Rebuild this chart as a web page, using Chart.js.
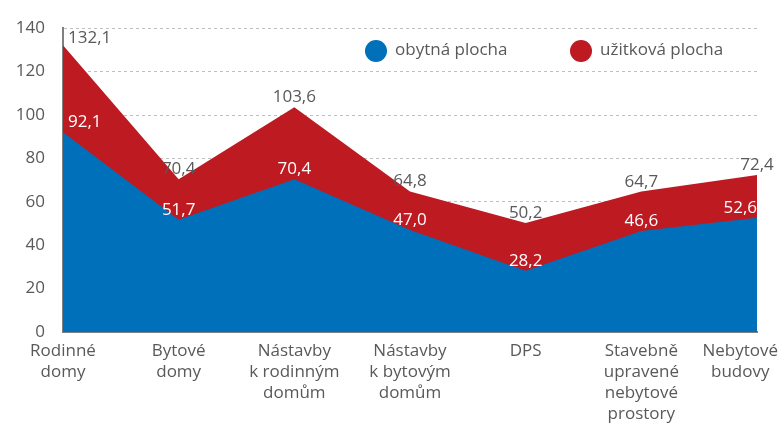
<!DOCTYPE html>
<html>
<head>
<meta charset="utf-8">
<script src="https://cdn.jsdelivr.net/npm/chart.js@4"></script>
<style>
    html, body { margin: 0; padding: 0; background: #ffffff; overflow: hidden; }
    #wrap { width: 782px; height: 423px; }
</style>
</head>
<body>
<div id="wrap"><canvas id="mainChart"></canvas></div>
<script>
// Data
const categories = [
    ['Rodinné', 'domy'],
    ['Bytové', 'domy'],
    ['Nástavby', 'k rodinným', 'domům'],
    ['Nástavby', 'k bytovým', 'domům'],
    ['DPS'],
    ['Stavebně', 'upravené', 'nebytové', 'prostory'],
    ['Nebytové', 'budovy']
];
const obytnaPlocha = [92.1, 51.7, 70.4, 47.0, 28.2, 46.6, 52.6];
const uzitkovaPlocha = [132.1, 70.4, 103.6, 64.8, 50.2, 64.7, 72.4];
const yTicks = [0, 20, 40, 60, 80, 100, 120, 140];

const BLUE = '#0070ba';
const RED = '#be1a22';
const GREY = '#595959';
const FONT = "'Open Sans', sans-serif";

const fmt = v => v.toFixed(1).replace('.', ',');

// Value labels above each point
const valueLabels = {
    id: 'valueLabels',
    afterDatasetsDraw(chart) {
        const ctx = chart.ctx;
        const area = chart.chartArea;
        ctx.save();
        ctx.font = `17px ${FONT}`;
        ctx.textAlign = 'center';
        ctx.textBaseline = 'alphabetic';
        chart.data.datasets.forEach((ds, i) => {
            const meta = chart.getDatasetMeta(i);
            ctx.fillStyle = ds.labelColor;
            meta.data.forEach((pt, j) => {
                const txt = fmt(ds.data[j]);
                const w = ctx.measureText(txt).width;
                let x = pt.x;
                let y = pt.y - 5;
                if (x - w / 2 < area.left + 5) x = area.left + 5 + w / 2;
                // white labels must stay on the coloured area
                if (ds.keepInside && x + w / 2 > area.right) x = area.right - w / 2;
                if (y < area.top + 15) y = area.top + 15;
                ctx.fillText(txt, x, y);
            });
        });
        ctx.restore();
    }
};

// Category labels, kept inside the canvas
const categoryLabels = {
    id: 'categoryLabels',
    afterDraw(chart) {
        const ctx = chart.ctx;
        const xs = chart.scales.x;
        ctx.save();
        ctx.font = `17px ${FONT}`;
        ctx.fillStyle = GREY;
        ctx.textAlign = 'center';
        ctx.textBaseline = 'middle';
        categories.forEach((lines, i) => {
            const widest = Math.max(...lines.map(l => ctx.measureText(l).width));
            let x = xs.getPixelForValue(i);
            if (x + widest / 2 > chart.width - 4) x = chart.width - 4 - widest / 2;
            lines.forEach((l, k) => {
                ctx.fillText(l, x, xs.top + 19 + k * 21);
            });
        });
        ctx.restore();
    }
};

// Legend drawn inside the plot
const innerLegend = {
    id: 'innerLegend',
    afterDraw(chart) {
        const ctx = chart.ctx;
        const items = [
            { text: 'obytná plocha', color: BLUE, x: 376 },
            { text: 'užitková plocha', color: RED, x: 581 }
        ];
        ctx.save();
        ctx.font = `17px ${FONT}`;
        ctx.textBaseline = 'middle';
        ctx.textAlign = 'left';
        items.forEach(it => {
            ctx.fillStyle = it.color;
            ctx.beginPath();
            ctx.arc(it.x, 51, 11, 0, Math.PI * 2);
            ctx.fill();
            ctx.fillStyle = GREY;
            ctx.fillText(it.text, it.x + 19, 50);
        });
        ctx.restore();
    }
};

const ctx = document.getElementById('mainChart').getContext('2d');
new Chart(ctx, {
    type: 'line',
    data: {
        labels: categories,
        datasets: [
            {
                label: 'obytná plocha',
                data: obytnaPlocha,
                backgroundColor: BLUE,
                borderColor: BLUE,
                borderWidth: 0,
                pointRadius: 0,
                fill: 'origin',
                tension: 0,
                order: 0,
                labelColor: '#ffffff',
                keepInside: true
            },
            {
                label: 'užitková plocha',
                data: uzitkovaPlocha,
                backgroundColor: RED,
                borderColor: RED,
                borderWidth: 0,
                pointRadius: 0,
                fill: 'origin',
                tension: 0,
                order: 1,
                labelColor: GREY,
                keepInside: false
            }
        ]
    },
    options: {
        responsive: true,
        maintainAspectRatio: false,
        animation: false,
        layout: {
            padding: { top: 27, right: 25, bottom: 0, left: 0 }
        },
        scales: {
            x: {
                offset: false,
                grid: { display: false, drawTicks: false },
                border: { display: true, color: '#808080', width: 2 },
                ticks: { display: false },
                afterFit: s => {
                    s.height = 91;
                    s.paddingLeft = 0;
                    s.paddingRight = 0;
                }
            },
            y: {
                min: 0,
                max: 140,
                afterBuildTicks: s => {
                    s.ticks = yTicks.map(v => ({ value: v }));
                },
                grid: {
                    color: '#bfbfbf',
                    lineWidth: 1,
                    drawTicks: false
                },
                border: { display: true, color: '#808080', width: 2, dash: [3, 3] },
                ticks: {
                    color: GREY,
                    font: { family: FONT, size: 17 },
                    padding: 18
                },
                afterFit: s => { s.width = 63; }
            }
        },
        plugins: {
            legend: { display: false },
            tooltip: { enabled: false }
        }
    },
    plugins: [valueLabels, categoryLabels, innerLegend]
});
</script>
</body>
</html>
